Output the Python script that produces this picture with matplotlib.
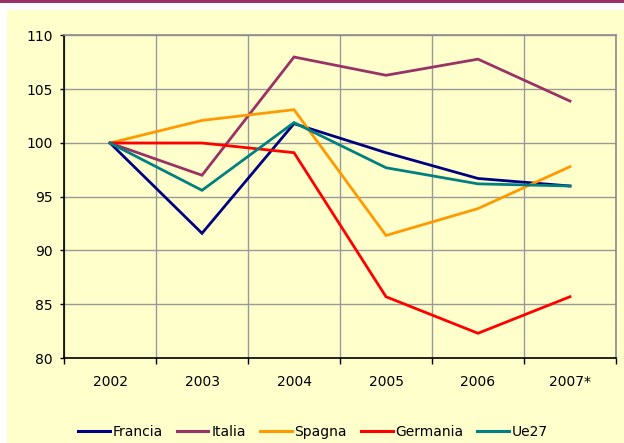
import matplotlib
matplotlib.use("Agg")
import matplotlib.pyplot as plt
from matplotlib.patches import Rectangle
import numpy as np

years = ["2002", "2003", "2004", "2005", "2006", "2007*"]
francia = [100.0, 91.6, 101.8, 99.1, 96.7, 96.0]
italia = [100.0, 97.0, 108.0, 106.3, 107.8, 103.9]
spagna = [100.0, 102.1, 103.1, 91.4, 93.9, 97.8]
germania = [100.0, 100.0, 99.1, 85.7, 82.3, 85.7]
ue27 = [100.0, 95.6, 101.9, 97.7, 96.2, 96.0]

series = [
    ("Francia", francia, "#000080"),
    ("Italia", italia, "#993366"),
    ("Spagna", spagna, "#FF9900"),
    ("Germania", germania, "#FF0000"),
    ("Ue27", ue27, "#008080"),
]

plt.rcParams['font.family'] = ['DejaVu Sans']

W, H = 624, 443
fig = plt.figure(figsize=(W / 100, H / 100), dpi=100)
fig.patch.set_facecolor("white")

# top purple band and yellow panel
fig.patches.append(Rectangle((0, 1 - 3 / H), 1, 3 / H, transform=fig.transFigure,
                             facecolor="#993366", edgecolor="none", zorder=-10))
fig.patches.append(Rectangle((7 / W, 0), 1 - 7 / W, 1 - 10 / H, transform=fig.transFigure,
                             facecolor="#FFFFCC", edgecolor="none", zorder=-10))

ax = fig.add_axes([64 / W, 1 - 358 / H, (616 - 64) / W, (358 - 35.5) / H])
ax.set_zorder(1)
ax.set_facecolor("#FFFFCC")

x = np.arange(len(years))
for name, vals, col in series:
    ax.plot(x, vals, color=col, lw=2.0, label=name, solid_joinstyle="miter", zorder=3)

ax.set_xlim(-0.5, len(years) - 0.5)
ax.set_ylim(80, 110)
ax.set_yticks(np.arange(80, 111, 5))
ax.tick_params(axis="y", length=3, width=1, pad=5, labelsize=10, colors="black")

# category boundaries as major ticks, labels at centers as minor
ax.set_xticks(np.arange(-0.5, len(years), 1.0))
ax.set_xticklabels([])
ax.set_xticks(x, minor=True)
ax.set_xticklabels(years, minor=True)
ax.tick_params(axis="x", which="major", length=4, width=1, direction="out")
ax.tick_params(axis="x", which="minor", length=0, pad=12, labelsize=10)

ax.grid(True, which="major", color="#999999", lw=1.0, zorder=1)
ax.set_axisbelow(True)

for s in ["top", "right"]:
    ax.spines[s].set_color("#8c8c8c")
    ax.spines[s].set_linewidth(1.2)
for s in ["left", "bottom"]:
    ax.spines[s].set_color("black")
    ax.spines[s].set_linewidth(1.2)

leg = fig.legend(loc="center", bbox_to_anchor=(313 / W, 1 - 432 / H), ncol=5,
                 frameon=False, fontsize=10, handlelength=2.3, handletextpad=0.2,
                 columnspacing=1.0)
for l in leg.get_lines():
    l.set_linewidth(2.2)

fig.savefig("out.png", dpi=100, facecolor=fig.get_facecolor())
